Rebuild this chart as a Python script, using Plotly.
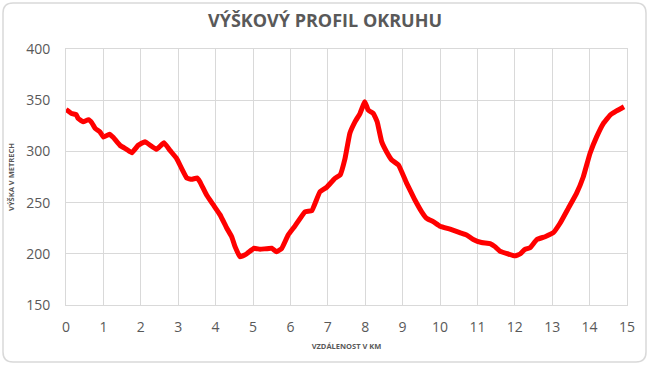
import plotly.graph_objects as go

km = [0.0, 0.15, 0.27, 0.33, 0.46, 0.6, 0.69, 0.78, 0.91, 1.0, 1.16, 1.26, 1.44, 1.62, 1.76,
      1.93, 2.11, 2.29, 2.42, 2.62, 2.78, 2.96, 3.09, 3.23, 3.36, 3.51, 3.58, 3.76, 3.94, 4.12,
      4.3, 4.43, 4.52, 4.65, 4.83, 5.03, 5.19, 5.5, 5.63, 5.77, 5.94, 6.12, 6.39, 6.57, 6.79,
      6.97, 7.19, 7.33, 7.46, 7.59, 7.73, 7.86, 7.99, 8.08, 8.22, 8.32, 8.44, 8.57, 8.71, 8.89,
      9.11, 9.33, 9.51, 9.64, 9.82, 10.0, 10.27, 10.53, 10.71, 10.89, 11.11, 11.34, 11.47, 11.6,
      11.83, 12.0, 12.14, 12.27, 12.41, 12.59, 12.81, 13.03, 13.21, 13.43, 13.65, 13.83, 14.01,
      14.19, 14.37, 14.55, 14.72, 14.92]
height = [341, 337, 336, 332, 329, 331, 328, 322.5, 319, 314, 316.7, 313.8, 306, 302, 298.7,
          306, 309.5, 305, 302, 308.5, 301, 293, 283.5, 274, 272.7, 274, 270.4, 257.4, 247.7, 238,
          225, 216.7, 207, 197.2, 200, 205.4, 204.4, 205.4, 202, 205.4, 218.4, 227, 241, 242, 260.6,
          265, 273.7, 277, 293, 317.7, 329, 337, 348.5, 340.4, 337, 329, 309.5, 299.7, 291.6, 286.7,
          268.8, 252.5, 241, 234.7, 231.4, 227, 224, 220.6, 218.4, 214, 211, 210, 207, 202.7,
          199.8, 198, 199.8, 204.4, 206, 214, 216.7, 220.6, 229.8, 244.4, 259, 275, 298,
          314.4, 327.4, 335.5, 339.5, 343.6]

title = "VÝŠKOVÝ PROFIL OKRUHU"
x_title = "VZDÁLENOST V KM"
y_title = "VÝŠKA V METRECH"

W, H = 650, 366
L, R, T, B = 66, 23, 49, 61
pw, ph = W - L - R, H - T - B

fig = go.Figure()
fig.add_trace(go.Scatter(x=km, y=height, mode="lines",
                         line=dict(color="#FF0000", width=5, shape="spline", smoothing=0.3),
                         hoverinfo="x+y"))

grid = "#d9d9d9"
txt = "#595959"
font = "Open Sans"

fig.update_layout(
    width=W, height=H, margin=dict(l=L, r=R, t=T, b=B),
    paper_bgcolor="white", plot_bgcolor="white", showlegend=False,
    title=dict(text="<b>" + title + "</b>", x=0.5, xanchor="center", y=1 - 21 / H, yanchor="middle",
               font=dict(family=font, size=18, color=txt)),
    xaxis=dict(range=[0, 15], dtick=1, tick0=0, showgrid=True, gridcolor=grid, gridwidth=1,
               zeroline=False, showline=True, mirror=True, linecolor=grid, linewidth=1,
               ticks="", ticklabelstandoff=9,
               tickfont=dict(family=font, size=14, color=txt),
               title=dict(text="<b>" + x_title + "</b>", font=dict(family=font, size=7.5, color=txt),
                          standoff=8)),
    yaxis=dict(range=[150, 400], dtick=50, showgrid=True, gridcolor=grid, gridwidth=1,
               zeroline=False, showline=True, mirror=True, linecolor=grid, linewidth=1,
               ticks="", ticklabelstandoff=12,
               tickfont=dict(family=font, size=14, color=txt),
               title=dict(text="<b>" + y_title + "</b>", font=dict(family=font, size=7.5, color=txt),
                          standoff=10)),
)

# rounded card border
x0, x1, y0, y1 = 3, 646, 3, 362
r = 10
def px(x): return (x - L) / pw
def py(y): return (H - B - y) / ph
path = (f"M {px(x0 + r)},{py(y0)} L {px(x1 - r)},{py(y0)} Q {px(x1)},{py(y0)} {px(x1)},{py(y0 + r)} "
        f"L {px(x1)},{py(y1 - r)} Q {px(x1)},{py(y1)} {px(x1 - r)},{py(y1)} "
        f"L {px(x0 + r)},{py(y1)} Q {px(x0)},{py(y1)} {px(x0)},{py(y1 - r)} "
        f"L {px(x0)},{py(y0 + r)} Q {px(x0)},{py(y0)} {px(x0 + r)},{py(y0)} Z")
fig.add_shape(type="path", path=path, xref="paper", yref="paper",
              line=dict(color="#d9d9d9", width=1.5), layer="below")

fig.write_html("out.html")
